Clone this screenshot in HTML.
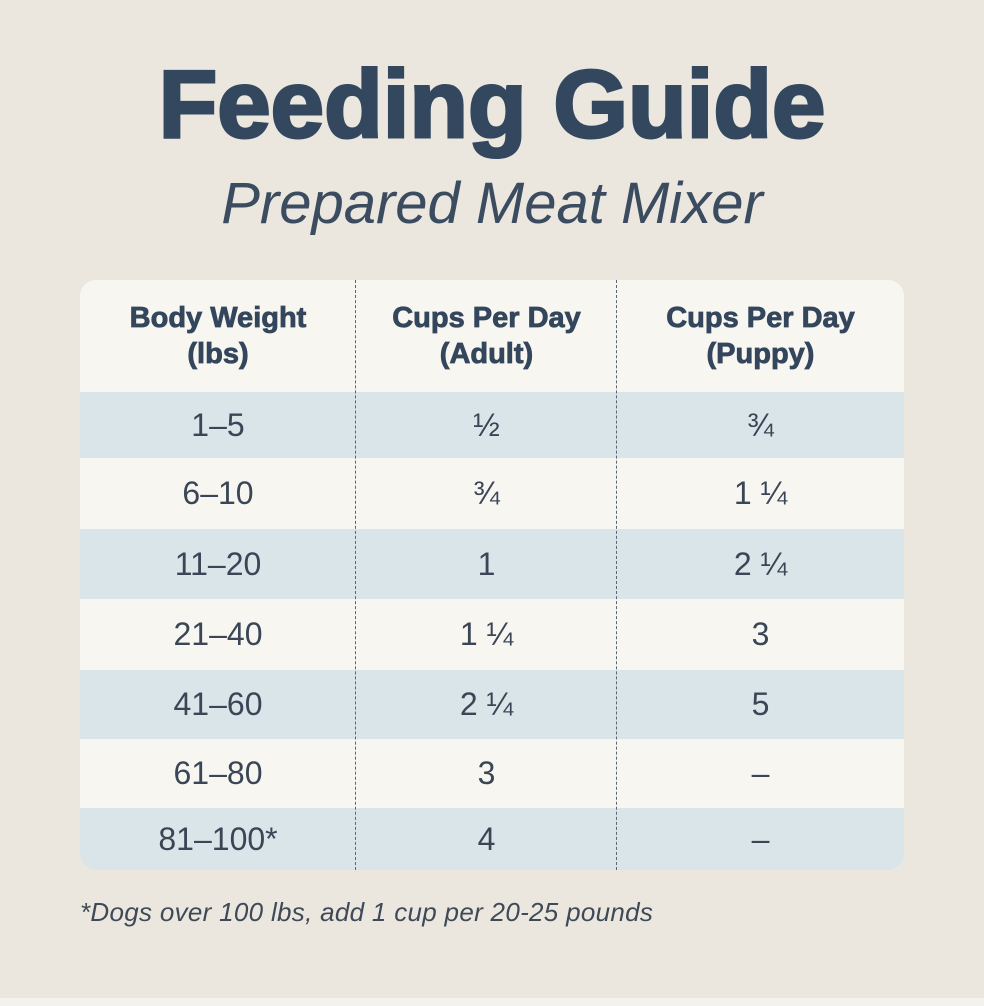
<!DOCTYPE html>
<html><head><meta charset="utf-8"><style>
body{margin:0;width:984px;height:1006px;background:#ebe7de;font-family:"Liberation Sans",sans-serif;position:relative;overflow:hidden;color:#34465c}
.abs{position:absolute}
#title{left:0;width:984px;top:50px;text-align:center;font-size:96px;font-weight:bold;letter-spacing:0px;color:#33475e;-webkit-text-stroke:3px #33475e}
#sub{left:0;width:984px;top:170px;text-align:center;font-size:58px;font-style:italic;color:#3b4c60}
#card{left:80px;top:280px;width:824px;height:590px;border-radius:16px;overflow:hidden;background:#f7f6f1}
.row{position:absolute;left:0;width:824px}
.blue{background:#d9e5e8}
.cell{position:absolute;top:0;height:100%;display:flex;align-items:center;justify-content:center;font-size:32px;color:#3a4656}
.c0{left:0;width:276px}.c1{left:276px;width:261px}.c2{left:537px;width:287px}
.hd .cell{font-weight:bold;font-size:29px;line-height:36px;text-align:center;color:#34465c;-webkit-text-stroke:0.8px #34465c}
.div{position:absolute;top:0;height:590px;border-left:1.5px dashed #5a6676;width:0}
#foot{left:80px;top:897px;font-size:26px;font-style:italic;color:#3f4a58;letter-spacing:0.3px}
#base{left:0;top:998px;width:984px;height:8px;background:#f4f2ee}
</style></head><body>
<div id="title" class="abs">Feeding Guide</div>
<div id="sub" class="abs">Prepared Meat Mixer</div>
<div id="card" class="abs">
<div class="row hd" style="top:0;height:112px">
<div class="cell c0">Body Weight<br>(lbs)</div>
<div class="cell c1">Cups Per Day<br>(Adult)</div>
<div class="cell c2">Cups Per Day<br>(Puppy)</div></div>
<div class="row blue" style="top:112px;height:66px"><div class="cell c0">1–5</div><div class="cell c1">½</div><div class="cell c2">¾</div></div>
<div class="row" style="top:178px;height:71px"><div class="cell c0">6–10</div><div class="cell c1">¾</div><div class="cell c2">1 ¼</div></div>
<div class="row blue" style="top:249px;height:70px"><div class="cell c0">11–20</div><div class="cell c1">1</div><div class="cell c2">2 ¼</div></div>
<div class="row" style="top:319px;height:71px"><div class="cell c0">21–40</div><div class="cell c1">1 ¼</div><div class="cell c2">3</div></div>
<div class="row blue" style="top:390px;height:69px"><div class="cell c0">41–60</div><div class="cell c1">2 ¼</div><div class="cell c2">5</div></div>
<div class="row" style="top:459px;height:69px"><div class="cell c0">61–80</div><div class="cell c1">3</div><div class="cell c2">–</div></div>
<div class="row blue" style="top:528px;height:62px"><div class="cell c0">81–100*</div><div class="cell c1">4</div><div class="cell c2">–</div></div>
<div class="div" style="left:275px"></div>
<div class="div" style="left:536px"></div>
</div>
<div id="foot" class="abs">*Dogs over 100 lbs, add 1 cup per 20-25 pounds</div>
<div id="base" class="abs"></div>
</body></html>
